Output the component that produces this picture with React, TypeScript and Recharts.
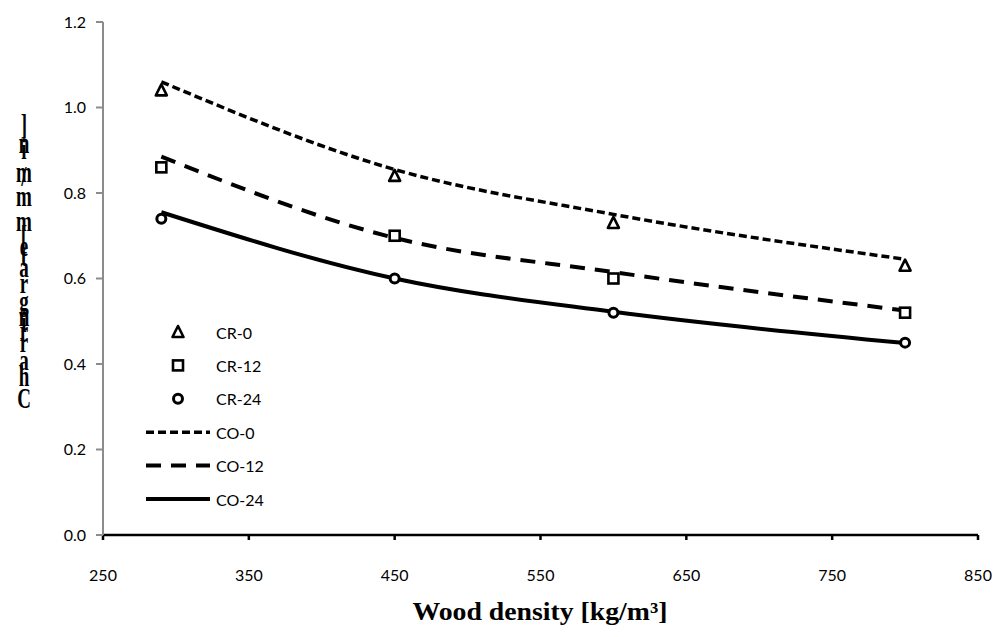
import { ComposedChart, Line, Scatter, XAxis, YAxis } from 'recharts';

// Wood density of each specimen group [kg/m3]
const DENSITY = [290, 450, 600, 800];

// measured charring rate (CR) and computed (CO) [mm/min]
const CR_0 = [1.04, 0.84, 0.73, 0.63];
const CR_12 = [0.86, 0.70, 0.60, 0.52];
const CR_24 = [0.74, 0.60, 0.52, 0.45];
const CO_0 = [1.06, 0.855, 0.75, 0.645];
const CO_12 = [0.885, 0.695, 0.615, 0.525];
const CO_24 = [0.755, 0.60, 0.522, 0.449];

const X_TICKS = [250, 350, 450, 550, 650, 750, 850];
const Y_TICKS = [0, 0.2, 0.4, 0.6, 0.8, 1.0, 1.2];

const X_TITLE = 'Wood density [kg/m³]';
const Y_TITLE = 'Charring rate [mm/min]';

const toPoints = (ys: number[]) => DENSITY.map((x, i) => ({ x, y: ys[i] }));

const FONT = 'Lato, "Open Sans", sans-serif';
const SERIF = '"Liberation Serif", "Times New Roman", serif';

type Shape = 'triangle' | 'square' | 'circle';

function Marker({ cx, cy, kind }: { cx: number; cy: number; kind: Shape }) {
  const sw = 2.6;
  if (kind === 'triangle') {
    return (
      <path
        d={`M${cx},${cy - 6} L${cx + 5.5},${cy + 5} L${cx - 5.5},${cy + 5} Z`}
        fill="#fff"
        stroke="#000"
        strokeWidth={sw}
        strokeLinejoin="round"
      />
    );
  }
  if (kind === 'square') {
    return (
      <rect x={cx - 5} y={cy - 5} width={10} height={10} fill="#fff" stroke="#000" strokeWidth={sw} />
    );
  }
  return <circle cx={cx} cy={cy} r={4.5} fill="#fff" stroke="#000" strokeWidth={3} />;
}

const SCATTERS: { name: string; data: number[]; kind: Shape }[] = [
  { name: 'CR-0', data: CR_0, kind: 'triangle' },
  { name: 'CR-12', data: CR_12, kind: 'square' },
  { name: 'CR-24', data: CR_24, kind: 'circle' },
];

const LINES: { name: string; data: number[]; dash?: string; width: number }[] = [
  { name: 'CO-0', data: CO_0, dash: '8 4', width: 3.5 },
  { name: 'CO-12', data: CO_12, dash: '15 10', width: 4 },
  { name: 'CO-24', data: CO_24, width: 4 },
];

// stacked upright glyphs of the y title, top to bottom, with centre y
const Y_GLYPHS: [string, number][] = [
  [']', 125],
  ['n', 143],
  ['i', 149],
  ['m', 172],
  ['/', 176],
  ['m', 196],
  ['m', 221],
  ['[', 236],
  ['e', 246],
  ['t', 256],
  ['a', 267],
  ['r', 283],
  ['g', 301],
  ['n', 316],
  ['i', 322],
  ['r', 331],
  ['r', 342],
  ['a', 360],
  ['h', 376],
  ['C', 398],
];

function LegendBox() {
  const rows = [
    ...SCATTERS.map((s) => ({ name: s.name, kind: s.kind as Shape | undefined, dash: undefined, width: 0 })),
    ...LINES.map((l) => ({ name: l.name, kind: undefined, dash: l.dash, width: l.width })),
  ];
  return (
    <svg
      width={200}
      height={220}
      style={{ position: 'absolute', left: 130, top: 310 }}
    >
      {rows.map((r, i) => {
        const y = 22 + i * 33.4;
        return (
          <g key={r.name}>
            {r.kind ? (
              <Marker cx={48} cy={y} kind={r.kind} />
            ) : (
              <line
                x1={16}
                x2={80}
                y1={y}
                y2={y}
                stroke="#000"
                strokeWidth={r.width}
                strokeDasharray={r.dash}
              />
            )}
            <text x={86} y={y} dominantBaseline="central" fontFamily={FONT} fontSize={16} fill="#000">
              {r.name}
            </text>
          </g>
        );
      })}
    </svg>
  );
}

export default function App() {
  return (
    <div style={{ position: 'absolute', left: 0, top: 0, width: 1004, height: 637, background: '#fff' }}>
      <ComposedChart width={1004} height={637} margin={{ top: 22, right: 26, bottom: 0, left: 0 }}>
        <XAxis
          dataKey="x"
          type="number"
          domain={[250, 850]}
          ticks={X_TICKS}
          height={102}
          allowDataOverflow
          axisLine={{ stroke: '#000', strokeWidth: 2.5 }}
          tickLine={{ stroke: '#000', strokeWidth: 2.5 }}
          tickSize={5}
          tickMargin={30}
          tick={{ fill: '#000', fontSize: 16, fontFamily: FONT }}
        />
        <YAxis
          type="number"
          domain={[0, 1.2]}
          ticks={Y_TICKS}
          width={103}
          allowDataOverflow
          tickFormatter={(v: number) => v.toFixed(1)}
          axisLine={{ stroke: '#8c8c8c', strokeWidth: 2 }}
          tickLine={{ stroke: '#8c8c8c', strokeWidth: 2 }}
          tickSize={7}
          tickMargin={10}
          tick={{ fill: '#000', fontSize: 16, fontFamily: FONT }}
        />
        {LINES.map((l) => (
          <Line
            key={l.name}
            data={toPoints(l.data)}
            dataKey="y"
            name={l.name}
            type="monotone"
            stroke="#000"
            strokeWidth={l.width}
            strokeDasharray={l.dash}
            dot={false}
            activeDot={false}
            isAnimationActive={false}
          />
        ))}
        {SCATTERS.map((s) => (
          <Scatter
            key={s.name}
            data={toPoints(s.data)}
            dataKey="y"
            name={s.name}
            isAnimationActive={false}
            shape={(p: any) => <Marker cx={p.cx} cy={p.cy} kind={s.kind} />}
          />
        ))}
      </ComposedChart>
      <LegendBox />
      <svg
        width={1004}
        height={637}
        style={{ position: 'absolute', left: 0, top: 0, pointerEvents: 'none' }}
        aria-label={Y_TITLE}
      >
        {Y_GLYPHS.map(([ch, y], i) => (
          <text
            key={i}
            x={0}
            y={0}
            transform={`translate(24 ${y}) scale(1 1.5)`}
            textAnchor="middle"
            dominantBaseline="central"
            fontFamily={SERIF}
            fontWeight="bold"
            fontSize={19}
            fill="#000"
          >
            {ch}
          </text>
        ))}
        <text
          x={540}
          y={620}
          textAnchor="middle"
          textLength={255}
          lengthAdjust="spacingAndGlyphs"
          fontFamily={SERIF}
          fontWeight="bold"
          fontSize={25}
          fill="#000"
        >
          {X_TITLE}
        </text>
      </svg>
    </div>
  );
}
